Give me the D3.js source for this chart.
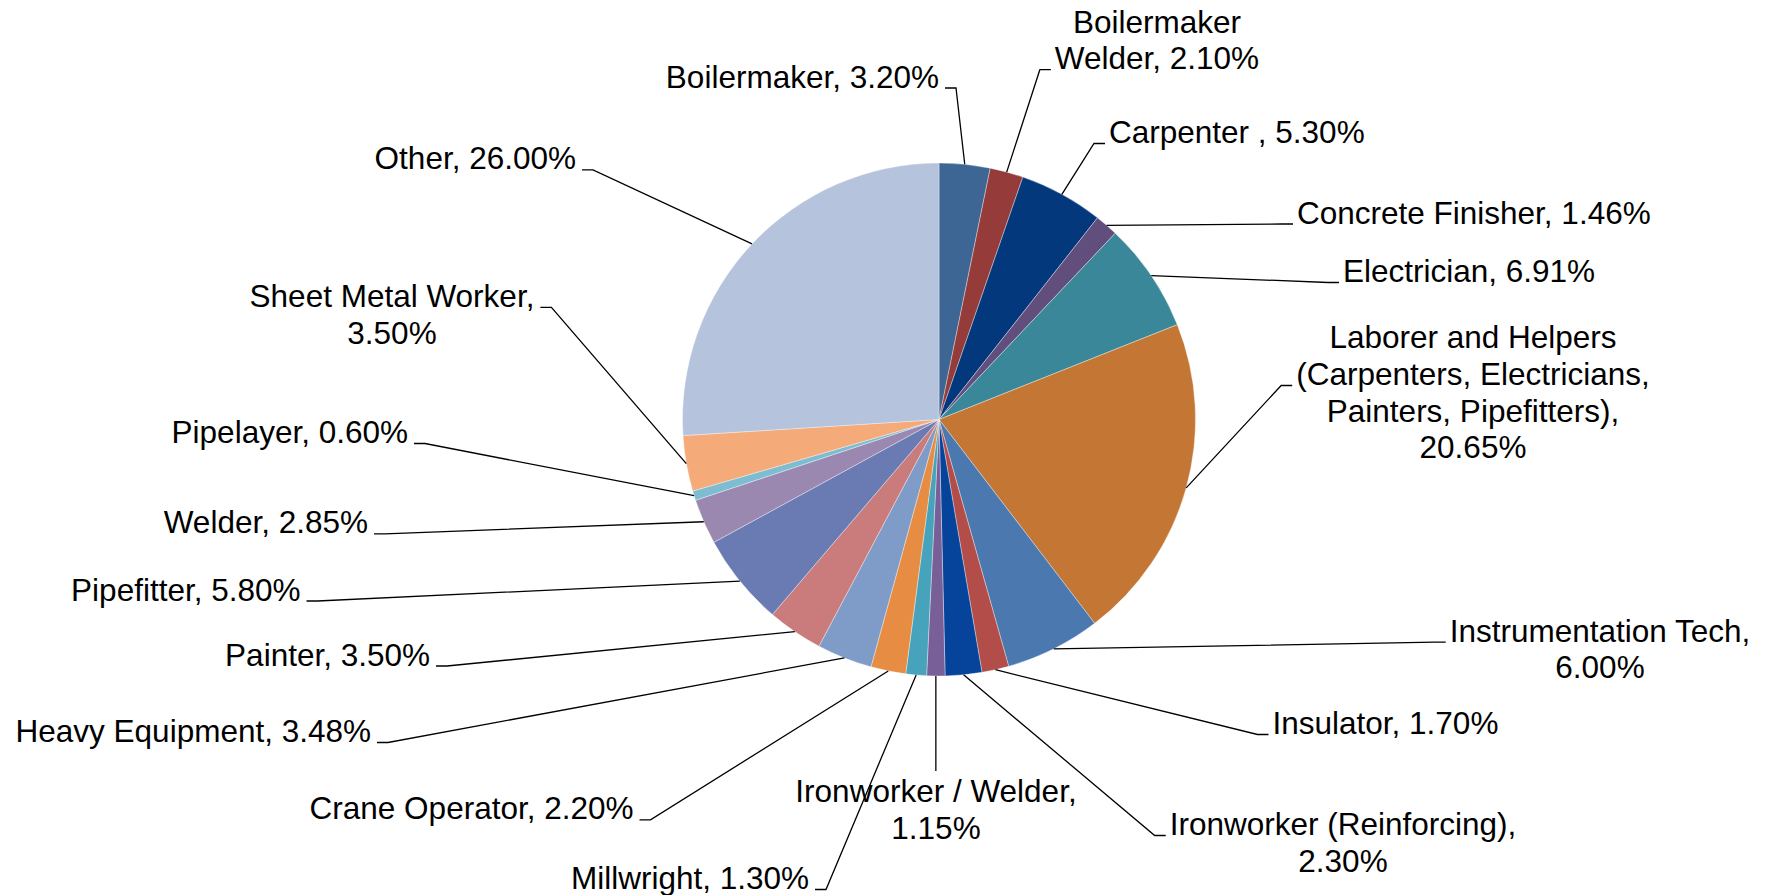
<!DOCTYPE html>
<html>
<head>
<meta charset="utf-8">
<script src="https://cdn.jsdelivr.net/npm/d3@7/dist/d3.min.js"></script>
<style>
  html, body { margin: 0; padding: 0; background: #fff; }
  svg { display: block; }
  text { font-family: "Liberation Sans", Arial, sans-serif; fill: #000; }
</style>
</head>
<body>
<svg id="chart" width="1769" height="895"></svg>
<script>
// Share of craft hours by trade (percent), clockwise from 12 o'clock
const trades = [
  "Boilermaker",
  "Boilermaker\nWelder",
  "Carpenter ",
  "Concrete Finisher",
  "Electrician",
  "Laborer and Helpers\n(Carpenters, Electricians,\nPainters, Pipefitters)",
  "Instrumentation Tech",
  "Insulator",
  "Ironworker (Reinforcing)",
  "Ironworker / Welder",
  "Millwright",
  "Crane Operator",
  "Heavy Equipment",
  "Painter",
  "Pipefitter",
  "Welder",
  "Pipelayer",
  "Sheet Metal Worker",
  "Other"
];
const shares = [3.20, 2.10, 5.30, 1.46, 6.91, 20.65, 6.00, 1.70, 2.30, 1.15,
                1.30, 2.20, 3.48, 3.50, 5.80, 2.85, 0.60, 3.50, 26.00];
const sliceColors = [
  "#3d6695", "#953b39", "#03387c", "#624e7c", "#398798", "#c47635",
  "#4a78af", "#b34d4a", "#05449a", "#795f98", "#47a3bb", "#e78d43",
  "#7f9cc8", "#c97c7b", "#6a7bb3", "#9b88b1", "#7ebcd2", "#f5ab79", "#b5c3dc"
];
// Where the value label breaks onto a new line after the trade name
const valueOnNewLine = [false, false, false, false, false, true, true, false, true, true,
                        false, false, false, false, false, false, false, true, false];

// Label placement: anchor, x, first baseline, which line the leader attaches to and on which side
const labelLayout = [
  { anchor: "end",    x: 939,   y: 87.5,  line: 0, side: "right" },
  { anchor: "middle", x: 1157,  y: 32.5,  line: 1, side: "left" },
  { anchor: "start",  x: 1109,  y: 143,   line: 0, side: "left" },
  { anchor: "start",  x: 1297,  y: 223.5, line: 0, side: "left" },
  { anchor: "start",  x: 1343,  y: 282,   line: 0, side: "left" },
  { anchor: "middle", x: 1473,  y: 348.3, line: 1, side: "left" },
  { anchor: "middle", x: 1600,  y: 641.7, line: 0, side: "left" },
  { anchor: "start",  x: 1272.5,y: 734,   line: 0, side: "left" },
  { anchor: "middle", x: 1343,  y: 835,   line: 0, side: "left" },
  { anchor: "middle", x: 936,   y: 802,   line: 0, side: "top" },
  { anchor: "end",    x: 809,   y: 889,   line: 0, side: "right" },
  { anchor: "end",    x: 633.5, y: 819.3, line: 0, side: "right" },
  { anchor: "end",    x: 371,   y: 742,   line: 0, side: "right" },
  { anchor: "end",    x: 430,   y: 665.5, line: 0, side: "right" },
  { anchor: "end",    x: 300.5, y: 600.5, line: 0, side: "right" },
  { anchor: "end",    x: 368,   y: 533.3, line: 0, side: "right" },
  { anchor: "end",    x: 408,   y: 443,   line: 0, side: "right" },
  { anchor: "middle", x: 392,   y: 306.8, line: 0, side: "right" },
  { anchor: "end",    x: 576,   y: 169.3, line: 0, side: "right" }
];

const cx = 939, cy = 419.5, radius = 256.5;
const fontSize = 31.5, lineStep = 36.7;
const tickLen = 11;

const rows = trades.map((name, i) => ({
  name, value: shares[i], color: sliceColors[i], newLine: valueOnNewLine[i], layout: labelLayout[i]
}));

const svg = d3.select("#chart");
const pie = d3.pie().sort(null).value(d => d.value).startAngle(0).endAngle(2 * Math.PI);
const arcs = pie(rows);
const arc = d3.arc().innerRadius(0).outerRadius(radius);
const edge = d3.arc().innerRadius(radius).outerRadius(radius);

const g = svg.append("g").attr("transform", `translate(${cx},${cy})`);
g.selectAll("path.slice")
  .data(arcs)
  .enter().append("path")
  .attr("class", "slice")
  .attr("d", arc)
  .attr("fill", d => d.data.color)
  .attr("stroke", "#ffffff")
  .attr("stroke-width", 0.6)
  .attr("stroke-opacity", 0.6);

const fmt = d3.format(".2f");
const labelG = svg.append("g");
const leaderG = svg.append("g");

arcs.forEach(d => {
  const row = d.data, L = row.layout;
  const valueText = fmt(row.value) + "%";
  let lines = row.name.split("\n");
  if (row.newLine) {
    lines[lines.length - 1] += ",";
    lines.push(valueText);
  } else {
    lines[lines.length - 1] += ", " + valueText;
  }
  const texts = lines.map((s, k) => labelG.append("text")
    .attr("x", L.x)
    .attr("y", L.y + k * lineStep)
    .attr("text-anchor", L.anchor)
    .style("font-size", fontSize + "px")
    .text(s));

  const bb = texts[L.line].node().getBBox();
  const [px, py] = edge.centroid(d);
  const target = [cx + px, cy + py];
  const ty = L.y + L.line * lineStep + 0.5;
  let path;
  if (L.side === "left") {
    const x0 = bb.x - 4;
    path = `M${x0},${ty}H${x0 - tickLen}L${target[0]},${target[1]}`;
  } else if (L.side === "right") {
    const x0 = bb.x + bb.width + 6;
    path = `M${x0},${ty}H${x0 + tickLen}L${target[0]},${target[1]}`;
  } else {
    const top = bb.y - 2;
    path = `M${target[0]},${top}L${target[0]},${target[1]}`;
  }
  leaderG.append("path")
    .attr("d", path)
    .attr("fill", "none")
    .attr("stroke", "#000")
    .attr("stroke-width", 1.3);
});
</script>
</body>
</html>
